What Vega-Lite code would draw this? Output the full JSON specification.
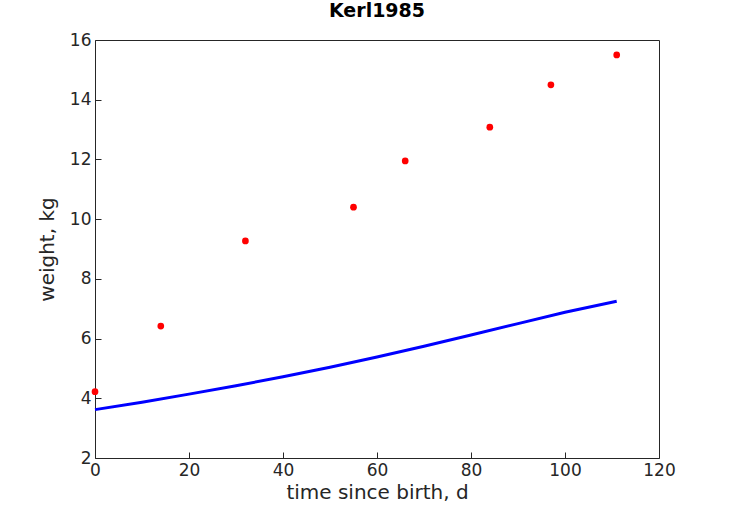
{
  "$schema": "https://vega.github.io/schema/vega-lite/v6.json",
  "width": 564,
  "height": 418,
  "autosize": "none",
  "padding": {"left": 95, "top": 40, "right": 70, "bottom": 63},
  "title": {"text": "Kerl1985", "font": "DejaVu Sans", "fontSize": 19, "fontWeight": "bold", "color": "#000", "offset": 10},
  "config": {
    "view": {"stroke": "#262626", "strokeWidth": 1},
    "axis": {
      "grid": false, "domain": false, "tickSize": -6, "tickColor": "#262626",
      "labelFlush": false, "labelOverlap": false,
      "labelFont": "DejaVu Sans", "labelFontSize": 17, "labelColor": "#262626",
      "titleFont": "DejaVu Sans", "titleFontSize": 20, "titleFontWeight": "normal", "titleColor": "#262626",
      "labelPadding": 10
    }
  },
  "datasets": {
    "obs": [
      {"t": 0, "w": 4.22}, {"t": 14, "w": 6.42}, {"t": 32, "w": 9.27}, {"t": 55, "w": 10.4},
      {"t": 66, "w": 11.95}, {"t": 84, "w": 13.08}, {"t": 97, "w": 14.5}, {"t": 111, "w": 15.5}
    ],
    "fit": [
      {"t": 0, "w": 3.62}, {"t": 10, "w": 3.87}, {"t": 20, "w": 4.14}, {"t": 30, "w": 4.42},
      {"t": 40, "w": 4.72}, {"t": 50, "w": 5.04}, {"t": 60, "w": 5.38}, {"t": 70, "w": 5.74},
      {"t": 80, "w": 6.12}, {"t": 90, "w": 6.5}, {"t": 100, "w": 6.88}, {"t": 111, "w": 7.25}
    ]
  },
  "layer": [
    {
      "data": {"name": "fit"},
      "mark": {"type": "line", "color": "#0000ff", "strokeWidth": 3},
      "encoding": {
        "x": {"field": "t", "type": "quantitative", "scale": {"domain": [0, 120], "nice": false}, "axis": {"title": "time since birth, d", "values": [0,20,40,60,80,100,120], "titlePadding": 4}},
        "y": {"field": "w", "type": "quantitative", "scale": {"domain": [2, 16], "nice": false, "zero": false}, "axis": {"title": "weight, kg", "values": [2,4,6,8,10,12,14,16], "titlePadding": 12}}
      }
    },
    {
      "data": {"name": "obs"},
      "mark": {"type": "circle", "color": "#ff0000", "opacity": 1, "size": 45},
      "encoding": {
        "x": {"field": "t", "type": "quantitative"},
        "y": {"field": "w", "type": "quantitative"}
      }
    }
  ]
}
